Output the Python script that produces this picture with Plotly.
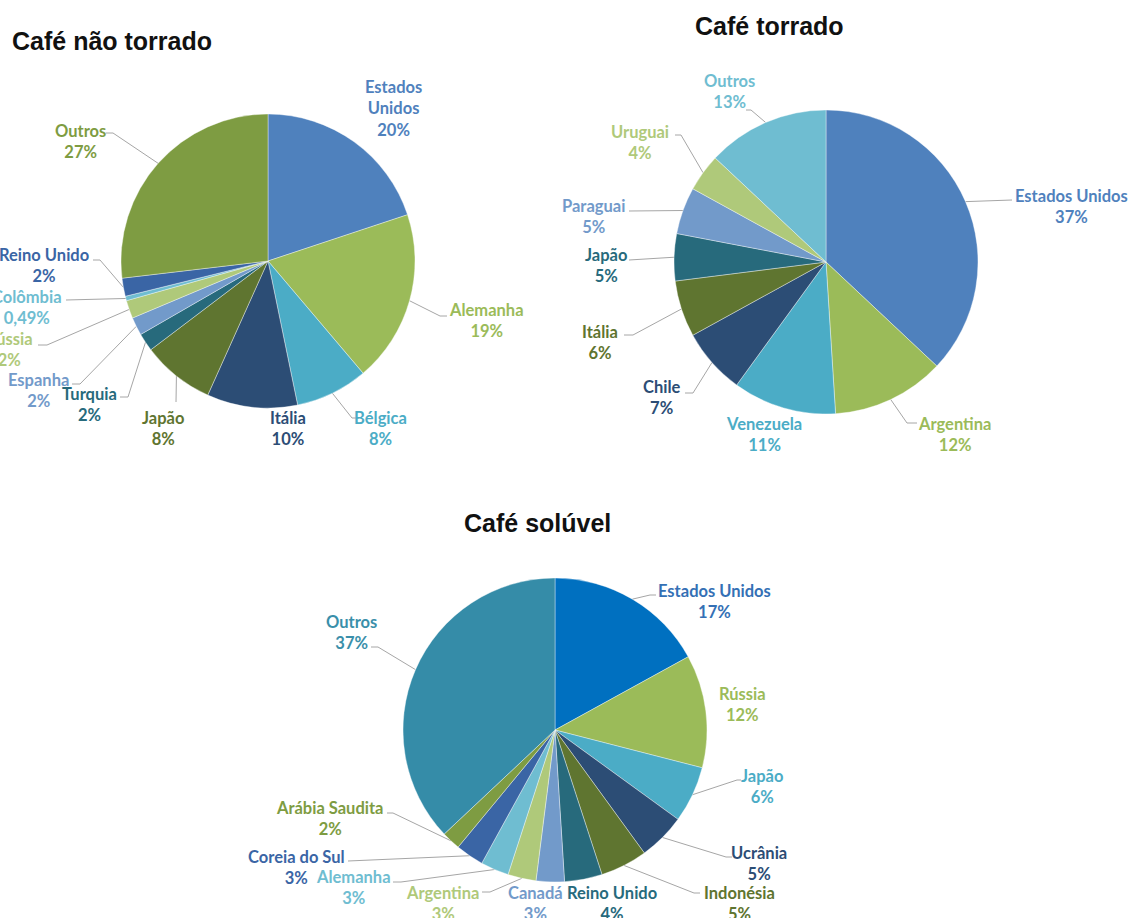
import math
import plotly.graph_objects as go

W, H = 1132, 918

# ---- data -----------------------------------------------------------------
# Café não torrado
nt_countries = ["Estados Unidos", "Alemanha", "Bélgica", "Itália", "Japão", "Turquia",
                "Espanha", "Rússia", "Colômbia", "Reino Unido", "Outros"]
nt_values = [20, 19, 8, 10, 8, 2, 2, 2, 0.49, 2, 27]

# Café torrado
t_countries = ["Estados Unidos", "Argentina", "Venezuela", "Chile", "Itália", "Japão",
               "Paraguai", "Uruguai", "Outros"]
t_values = [37, 12, 11, 7, 6, 5, 5, 4, 13]

# Café solúvel
s_countries = ["Estados Unidos", "Rússia", "Japão", "Ucrânia", "Indonésia", "Reino Unido",
               "Canadá", "Argentina", "Alemanha", "Coreia do Sul", "Arábia Saudita", "Outros"]
s_values = [17, 12, 6, 5, 5, 4, 3, 3, 3, 3, 2, 37]

# ---- styling --------------------------------------------------------------
nt_colors = ["#4F81BD", "#9BBB59", "#4BACC6", "#2C4D75", "#5F7530", "#276A7C",
             "#729ACA", "#AFC97A", "#6FBDD1", "#3A65A5", "#7E9C42"]
t_colors = ["#4F81BD", "#9BBB59", "#4BACC6", "#2C4D75", "#5F7530", "#276A7C",
            "#729ACA", "#AFC97A", "#6FBDD1"]
s_colors = ["#0070C0", "#9BBB59", "#4BACC6", "#2C4D75", "#5F7530", "#276A7C",
            "#729ACA", "#AFC97A", "#6FBDD1", "#3A65A5", "#7E9C42", "#358CA8"]

LABEL_FONT = "Lato"
LABEL_SIZE = 16.5
TITLE_FONT = "Liberation Sans"
TITLE_SIZE = 25
LEADER_COLOR = "#A6A6A6"

# label placement in pixels: name -> (x, y, xanchor, leader points from elbow to label, shown name)
nt_layout = {
    "Estados Unidos": (393, 108, "center", [], "Estados<br>Unidos"),
    "Alemanha": (486, 320, "center", [(440, 316), (447, 316)], None),
    "Bélgica": (380, 428, "center", [(352, 418), (359, 418)], None),
    "Itália": (288, 428, "center", [], None),
    "Japão": (163, 428, "center", [(176, 402)], None),
    "Turquia": (89, 404, "center", [(128, 397), (120, 397)], None),
    "Espanha": (38, 390, "center", [(80, 384), (72, 384)], None),
    "Rússia": (35, 349, "right", [(47, 345), (38, 345)], None),
    "Colômbia": (64, 307, "right", [(72, 300), (66, 300)], None),
    "Reino Unido": (91, 265, "right", [(100, 260), (93, 260)], None),
    "Outros": (80, 141, "center", [(113, 133), (106, 133)], None),
}
t_layout = {
    "Estados Unidos": (1071, 206, "center", [(1005, 200), (1012, 200)], None),
    "Argentina": (954, 434, "center", [(907, 423), (917, 423)], None),
    "Venezuela": (764, 434, "center", [], None),
    "Chile": (662, 397, "center", [(693, 393), (685, 393)], None),
    "Itália": (600, 342, "center", [(633, 335), (624, 335)], None),
    "Japão": (606, 265, "center", [(636, 260), (629, 260)], None),
    "Paraguai": (593, 216, "center", [(636, 211), (629, 211)], None),
    "Uruguai": (640, 142, "center", [(681, 135), (675, 135)], None),
    "Outros": (729, 91, "center", [(751, 110), (746, 110)], None),
}
s_layout = {
    "Estados Unidos": (714, 601, "center", [(650, 595), (656, 595)], None),
    "Rússia": (742, 704, "center", [], None),
    "Japão": (762, 786, "center", [(737, 780), (741, 780)], None),
    "Ucrânia": (759, 863, "center", [(726, 857), (732, 857)], None),
    "Indonésia": (739, 903, "center", [(694, 893), (700, 893)], None),
    "Reino Unido": (612, 903, "center", [], None),
    "Canadá": (535, 903, "center", [], None),
    "Argentina": (442, 903, "center", [(490, 892), (482, 892)], None),
    "Alemanha": (353, 887, "center", [(401, 882), (393, 882)], None),
    "Coreia do Sul": (296, 867, "center", [(355, 861), (348, 861)], None),
    "Arábia Saudita": (330, 818, "center", [(393, 813), (387, 813)], None),
    "Outros": (351, 632, "center", [(378, 647), (371, 647)], None),
}
s_label_colors = {"Estados Unidos": "#3470B5", "Outros": "#3A8FAA"}

charts = [
    # title, title position, countries, values, colors, layout, centre, radius, label colour overrides
    ("Café não torrado", (10, 41, "left"), nt_countries, nt_values, nt_colors, nt_layout, (268, 261), 147, {}),
    ("Café torrado", (769, 26, "center"), t_countries, t_values, t_colors, t_layout, (826, 262), 152, {}),
    ("Café solúvel", (537, 523, "center"), s_countries, s_values, s_colors, s_layout, (555, 730), 152, s_label_colors),
]


def pct(v):
    return f"{v:g}%".replace(".", ",")


fig = go.Figure()
annotations = []

for title, (tx, ty, tanchor), countries, values, colors, lay, (cx, cy), r, label_colors in charts:
    fig.add_trace(go.Pie(
        labels=countries, values=values, sort=False, direction="clockwise", rotation=0,
        marker=dict(colors=colors, line=dict(color="rgba(255,255,255,0.55)", width=0.7)),
        textinfo="none", hoverinfo="skip", showlegend=False,
        domain=dict(x=[(cx - r) / W, (cx + r) / W], y=[1 - (cy + r) / H, 1 - (cy - r) / H]),
    ))

    annotations.append(dict(
        x=tx, y=ty, xref="x", yref="y", xanchor=tanchor, yanchor="middle", showarrow=False,
        text=f"<b>{title}</b>", font=dict(family=TITLE_FONT, size=TITLE_SIZE, color="#111111"),
    ))

    total = sum(values)
    cum = 0.0
    lx, ly = [], []
    for name, v, col in zip(countries, values, colors):
        mid = (cum + v / 2) / total * 2 * math.pi
        cum += v
        ax_, ay_ = cx + r * math.sin(mid), cy - r * math.cos(mid)
        x, y, xanchor, pts, shown = lay[name]
        if pts:
            lx += [ax_] + [p[0] for p in pts] + [None]
            ly += [ay_] + [p[1] for p in pts] + [None]
        annotations.append(dict(
            x=x, y=y, xref="x", yref="y", xanchor=xanchor, yanchor="middle", showarrow=False,
            align="center", text=f"{shown or name}<br>{pct(v)}",
            font=dict(family=LABEL_FONT, size=LABEL_SIZE, color=label_colors.get(name, col), weight="bold"),
        ))
    fig.add_trace(go.Scatter(
        x=lx, y=ly, mode="lines", line=dict(color=LEADER_COLOR, width=1),
        hoverinfo="skip", showlegend=False,
    ))

fig.update_layout(
    width=W, height=H, margin=dict(l=0, r=0, t=0, b=0),
    paper_bgcolor="white", plot_bgcolor="white",
    xaxis=dict(range=[0, W], visible=False, fixedrange=True, domain=[0, 1]),
    yaxis=dict(range=[H, 0], visible=False, fixedrange=True, domain=[0, 1]),
    annotations=annotations,
)

fig.write_html("out.html")
